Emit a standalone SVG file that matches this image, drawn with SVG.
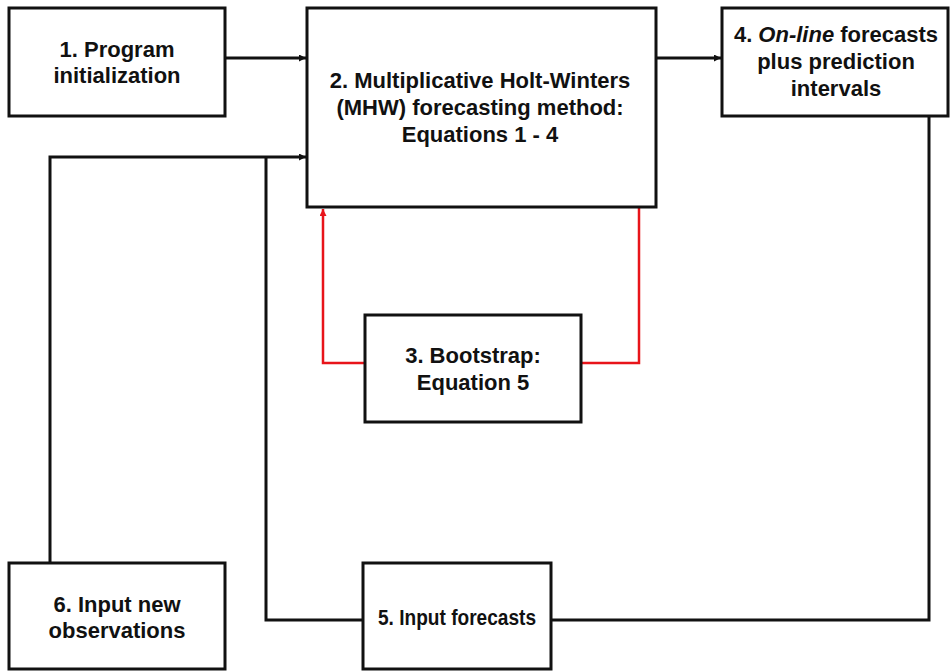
<svg xmlns="http://www.w3.org/2000/svg" width="951" height="672" viewBox="0 0 951 672">
<style>
.box{fill:#fff;stroke:#111;stroke-width:3}
.t{font-family:"Liberation Sans",Arial,sans-serif;font-weight:bold;font-size:22px;fill:#111;text-anchor:middle}
.c{fill:none;stroke:#111;stroke-width:3}
.r{fill:none;stroke:#e8141a;stroke-width:2.5}
</style>
<defs>
<marker id="ab" viewBox="0 0 10 10" refX="10" refY="5" markerWidth="9" markerHeight="7" markerUnits="userSpaceOnUse" orient="auto"><path d="M0,0 L10,5 L0,10 z" fill="#111"/></marker>
<marker id="ar" viewBox="0 0 10 10" refX="10" refY="5" markerWidth="9" markerHeight="7" markerUnits="userSpaceOnUse" orient="auto"><path d="M0,0 L10,5 L0,10 z" fill="#e8141a"/></marker>
</defs>
<rect width="951" height="672" fill="#fff"/>
<g id="connectors">
<line class="c" x1="225" y1="58" x2="306" y2="58" marker-end="url(#ab)"/>
<line class="c" x1="656" y1="58" x2="721" y2="58" marker-end="url(#ab)"/>
<polyline class="c" points="50,563 50,157 306,157" marker-end="url(#ab)"/>
<polyline class="c" points="363,620 266,620 266,157"/>
<polyline class="c" points="929,116 929,620 551,620"/>
<polyline class="r" points="365,363 323,363 323,209" marker-end="url(#ar)"/>
<polyline class="r" points="581,363 639,363 639,207"/>
</g>
<g id="n1"><rect class="box" x="9" y="8" width="216" height="108"/>
<text class="t" x="117" y="57">1. Program</text><text class="t" x="117" y="83">initialization</text></g>
<g id="n2"><rect class="box" x="307" y="8" width="349" height="199"/>
<text class="t" x="480" y="88">2. Multiplicative Holt-Winters</text><text class="t" x="480" y="115">(MHW) forecasting method:</text><text class="t" x="480" y="142">Equations 1 - 4</text></g>
<g id="n3"><rect class="box" x="365" y="315" width="216" height="107"/>
<text class="t" x="473" y="363">3. Bootstrap:</text><text class="t" x="473" y="390">Equation 5</text></g>
<g id="n4"><rect class="box" x="722" y="8" width="226" height="108"/>
<text class="t" x="836" y="42">4. <tspan font-style="italic">On-line</tspan> forecasts</text><text class="t" x="836" y="69">plus prediction</text><text class="t" x="836" y="96">intervals</text></g>
<g id="n5"><rect class="box" x="363" y="563" width="188" height="106"/>
<text class="t" x="457" y="625" textLength="158" lengthAdjust="spacingAndGlyphs">5. Input forecasts</text></g>
<g id="n6"><rect class="box" x="9" y="563" width="216" height="106"/>
<text class="t" x="117" y="612">6. Input new</text><text class="t" x="117" y="638">observations</text></g>
</svg>
